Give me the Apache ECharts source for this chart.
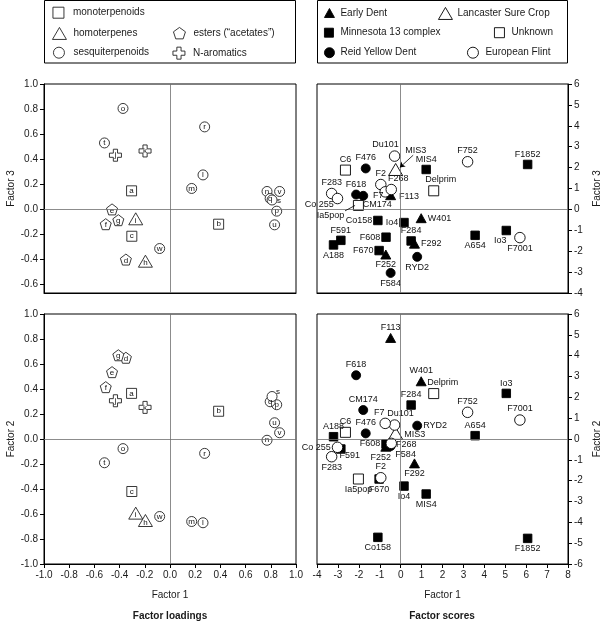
<!DOCTYPE html>
<html><head><meta charset="utf-8">
<script src="https://cdn.jsdelivr.net/npm/echarts@6/dist/echarts.min.js"></script>
<style>html,body{margin:0;padding:0;background:#fff}#c{width:608px;height:622px}</style>
</head><body><div id="c"></div>
<script>
// ---------- Data: factor loadings (variables a..w) ----------
const loadNames = ['a','b','c','d','e','f','g','h','i','j','k','l','m','n','o','p','q','r','s','t','u','v','w'];
const loadGroup = ['monoterpenoids','monoterpenoids','monoterpenoids',
  'esters (“acetates”)','esters (“acetates”)','esters (“acetates”)','esters (“acetates”)',
  'homoterpenes','homoterpenes','N-aromatics','N-aromatics',
  'sesquiterpenoids','sesquiterpenoids','sesquiterpenoids','sesquiterpenoids','sesquiterpenoids','sesquiterpenoids',
  'sesquiterpenoids','sesquiterpenoids','sesquiterpenoids','sesquiterpenoids','sesquiterpenoids','sesquiterpenoids'];
const loadF1 = [-0.305,0.386,-0.303,-0.35,-0.46,-0.51,-0.41,-0.195,-0.272,-0.433,-0.198,0.262,0.172,0.77,-0.373,0.847,0.795,0.275,0.81,-0.52,0.83,0.87,-0.082];
const loadF2 = [0.365,0.222,-0.42,0.65,0.535,0.415,0.67,-0.652,-0.593,0.306,0.253,-0.67,-0.66,-0.01,-0.077,0.274,0.298,-0.115,0.34,-0.19,0.13,0.05,-0.62];
const loadF3 = [0.148,-0.118,-0.214,-0.40,0.0,-0.118,-0.086,-0.413,-0.075,0.432,0.466,0.275,0.167,0.143,0.805,-0.014,0.087,0.658,0.075,0.53,-0.123,0.143,-0.312];

// ---------- Data: factor scores (accessions) ----------
const scoreNames = ['F113','W401','F292','F252','MIS4','Co158','Io4','F591','A188','F608','F284','F670','F1852','A654','Io3',
  'F476','F618','CM174','RYD2','F584','MIS3','C6','Ia5pop','Delprim','Du101','F2','F7','F268','F283','Co 255','F752','F7001'];
const scoreGroup = ['Early Dent','Early Dent','Early Dent','Early Dent',
  'Minnesota 13 complex','Minnesota 13 complex','Minnesota 13 complex','Minnesota 13 complex','Minnesota 13 complex','Minnesota 13 complex',
  'Minnesota 13 complex','Minnesota 13 complex','Minnesota 13 complex','Minnesota 13 complex','Minnesota 13 complex',
  'Reid Yellow Dent','Reid Yellow Dent','Reid Yellow Dent','Reid Yellow Dent','Reid Yellow Dent',
  'Lancaster Sure Crop','Unknown','Unknown','Unknown',
  'European Flint','European Flint','European Flint','European Flint','European Flint','European Flint','European Flint','European Flint'];
const scoreF1 = [-0.48,0.98,0.66,-0.71,1.22,-1.09,0.16,-2.86,-3.21,-0.70,0.50,-1.03,6.07,3.56,5.05,-1.67,-2.13,-1.79,0.79,-0.48,-0.24,-2.64,-2.02,1.58,-0.29,-0.95,-0.74,-0.45,-3.30,-3.02,3.2,5.70];
const scoreF2 = [4.85,2.77,-1.17,-0.37,-2.64,-4.72,-2.26,-0.48,0.11,-0.24,1.63,-1.92,-4.77,0.16,2.19,0.27,3.06,1.39,0.64,-0.34,0.27,0.32,-1.92,2.18,0.67,-1.86,0.75,-0.21,-0.85,-0.40,1.28,0.91];
const scoreF3 = [0.68,-0.42,-1.64,-2.16,1.91,-0.53,-0.63,-1.48,-1.70,-1.33,-1.51,-1.97,2.15,-1.24,-1.01,1.96,0.71,0.65,-2.27,-3.04,1.91,1.88,0.19,0.89,2.55,1.19,0.84,0.95,0.76,0.52,2.28,-1.35];

// ---------- Tick labels ----------
const loadTicksF3 = [-0.6,-0.4,-0.2,0.0,0.2,0.4,0.6,0.8,1.0];

// ---------- Styles ----------
const FONT = '"Liberation Sans", Arial, Helvetica, sans-serif';
const TXT = '#1a1a1a';
const PENT = 'path://M0,-10L9.51,-3.09L5.88,8.09L-5.88,8.09L-9.51,-3.09Z';
const CROSS = 'path://M-3.5,-10L3.5,-10L3.5,-3.5L10,-3.5L10,3.5L3.5,3.5L3.5,10L-3.5,10L-3.5,3.5L-10,3.5L-10,-3.5L-3.5,-3.5Z';
const loadStyle = {
  'monoterpenoids': {symbol:'rect', size:10, off:[0,0]},
  'homoterpenes': {symbol:'triangle', size:[14,12], off:[0,2]},
  'esters (“acetates”)': {symbol:PENT, size:11, off:[0,1]},
  'sesquiterpenoids': {symbol:'circle', size:10, off:[0,0]},
  'N-aromatics': {symbol:CROSS, size:12, off:[0,0]}
};
const scoreStyle = {
  'Early Dent': {symbol:'triangle', size:[10,9], fill:'#000'},
  'Minnesota 13 complex': {symbol:'rect', size:8.5, fill:'#000'},
  'Reid Yellow Dent': {symbol:'circle', size:9, fill:'#000'},
  'Lancaster Sure Crop': {symbol:'triangle', size:[14,12], fill:'#fff'},
  'Unknown': {symbol:'rect', size:10, fill:'#fff'},
  'European Flint': {symbol:'circle', size:10.5, fill:'#fff'}
};
// special letter label placements [panel] -> [dx,dy]
const letterMoves = {top: {s:[7,1]}, bot: {s:[6,-5]}};
// label placements for scores: [position, dx, dy]
const placeTop = {
  F113:['right',2,1], W401:['right',0,0], F292:['right',0,0], F252:['bottom',0,0],
  MIS4:['top',0,0], Co158:['left',0,0], Io4:['left',0,0], F591:['top',0,0], A188:['bottom',0,0],
  F608:['left',0,0], F284:['top',0,0], F670:['left',0,0], F1852:['top',0,0], A654:['bottom',0,0], Io3:['bottom',-6,0],
  F476:['top',0,0], F618:['top',0,0], CM174:['inside',14,9], RYD2:['bottom',0,0], F584:['bottom',0,0],
  MIS3:['inside',20,-19], C6:['top',0,0], Ia5pop:['inside',-28,10], Delprim:['top',7,0],
  Du101:['top',-9,0], F2:['top',0,0], F7:['left',5,4], F268:['top',7,0], F283:['top',0,0], 'Co 255':['left',3,6],
  F752:['top',0,0], F7001:['bottom',0,0]
};
const placeBot = {
  F113:['top',0,0], W401:['top',0,0], F292:['bottom',0,0], F252:['bottom',-5,0],
  MIS4:['bottom',0,0], Co158:['bottom',0,0], Io4:['bottom',0,0], F591:['bottom',9,-4], A188:['top',0,0],
  F608:['left',0,0], F284:['top',0,0], F670:['bottom',0,0], F1852:['bottom',0,0], A654:['top',0,0], Io3:['top',0,0],
  F476:['top',0,0], F618:['top',0,0], CM174:['top',0,0], RYD2:['right',0,0], F584:['inside',15,8],
  MIS3:['right',0,1], C6:['top',0,0], Ia5pop:['bottom',0,0], Delprim:['top',9,0],
  Du101:['top',6,0], F2:['top',0,0], F7:['top',-6,0], F268:['right',-2,1], F283:['bottom',0,0], 'Co 255':['left',0,0],
  F752:['top',0,0], F7001:['top',0,0]
};
// leader lines in the factor-3 score panel: offsets (data units) from the point
const leadersTop = {
  MIS3: {from:[0.84,0.685], to:[0.2,0.1], arrow:true},
  Ia5pop: {from:[-0.64,-0.26], to:[-0.16,0], arrow:false}
};

const zeroLines = {
  silent:true, symbol:'none', label:{show:false}, animation:false,
  lineStyle:{color:'#6e6e6e', width:0.8, type:'solid'},
  data:[{xAxis:0},{yAxis:0}]
};

const series = [];
// loadings series
[['top',0,loadF3],['bot',2,loadF2]].forEach(([panel, gi, yArr]) => {
  Object.keys(loadStyle).forEach((g, k) => {
    const st = loadStyle[g];
    const data = [];
    loadNames.forEach((n, i) => {
      if (loadGroup[i] !== g) return;
      const mv = letterMoves[panel][n];
      data.push({value:[loadF1[i], yArr[i]], name:n,
        label: mv ? {offset:mv} : {offset:st.off}});
    });
    series.push({
      type:'scatter', name:g, xAxisIndex:gi, yAxisIndex:gi, z:3,
      symbol:st.symbol, symbolSize:st.size, data,
      itemStyle:{color:'#fff', borderColor:'#222', borderWidth:0.9, opacity:1},
      label:{show:true, position:'inside', formatter:'{b}', fontSize:8, color:'#111', fontFamily:FONT},
      emphasis:{disabled:true},
      markLine: k === 0 ? zeroLines : undefined
    });
  });
});
// scores series
[['top',1,scoreF3,placeTop,leadersTop],['bot',3,scoreF2,placeBot,{}]].forEach(([panel, gi, yArr, place, leaders]) => {
  Object.keys(scoreStyle).forEach((g, k) => {
    const st = scoreStyle[g];
    const data = [];
    const lead = [];
    scoreNames.forEach((n, i) => {
      if (scoreGroup[i] !== g) return;
      const p = place[n] || ['top',0,0];
      data.push({value:[scoreF1[i], yArr[i]], name:n, label:{position:p[0], offset:[p[1], p[2]]}});
      const L = leaders[n];
      if (L) {
        lead.push([
          {coord:[scoreF1[i] + L.from[0], yArr[i] + L.from[1]], symbol:'none'},
          {coord:[scoreF1[i] + L.to[0], yArr[i] + L.to[1]], symbol:L.arrow ? 'arrow' : 'none', symbolSize:L.arrow ? 5 : 0}
        ]);
      }
    });
    let markLine;
    if (k === 0) markLine = zeroLines;
    else if (lead.length) markLine = {silent:true, label:{show:false}, animation:false,
      lineStyle:{color:'#000', width:0.8, type:'solid'}, data:lead};
    series.push({
      type:'scatter', name:g, xAxisIndex:gi, yAxisIndex:gi, z:3,
      symbol:st.symbol, symbolSize:st.size, data,
      itemStyle:{color:st.fill, borderColor:'#000', borderWidth:0.9, opacity:1},
      label:{show:true, formatter:'{b}', fontSize:9, color:'#111', distance:1, fontFamily:FONT},
      emphasis:{disabled:true},
      markLine
    });
  });
});

const axisText = {fontSize:10, color:TXT, fontFamily:FONT};
const fmt1 = v => (Math.abs(v) < 1e-9 ? 0 : v).toFixed(1);
const nameStyle = {fontSize:10, color:TXT, fontFamily:FONT};
const hiddenX = (gi, min, max) => ({type:'value', gridIndex:gi, min, max, axisLine:{show:true, onZero:false, lineStyle:{color:'#000'}},
  axisTick:{show:false}, axisLabel:{show:false}, splitLine:{show:false}});

const legends = [
  ['monoterpenoids','rect',11,11,52.5,6.7,4],
  ['homoterpenes','triangle',14,12,52,27,2],
  ['esters (“acetates”)',PENT,12,12,173,27,3],
  ['sesquiterpenoids','circle',11,11,53,46.7,4],
  ['N-aromatics',CROSS,12,12,172.5,46.7,3],
  ['Early Dent','triangle',10,9,324,7,1],
  ['Lancaster Sure Crop','triangle',14,12,438,7,0],
  ['Minnesota 13 complex','rect',9,9,324,26.7,2],
  ['Unknown','rect',10,10,494,26.7,2],
  ['Reid Yellow Dent','circle',10,10,324,46.7,1],
  ['European Flint','circle',11,11,467,46.7,2]
].map(([name, icon, w, h, left, top, pad]) => ({
  data:[{name, icon}], left, top, itemWidth:w, itemHeight:h, padding:0, selectedMode:false,
  itemStyle:{borderWidth:0.9},
  textStyle:{fontSize:10, color:TXT, fontFamily:FONT, lineHeight:12, padding:[0,0,0,pad]}
}));

const option = {
  animation:false,
  backgroundColor:'#fff',
  textStyle:{fontFamily:FONT},
  legend: legends,
  grid:[
    {left:44, top:84, width:252, height:209, show:true, borderColor:'#000', borderWidth:1},
    {left:317, top:84, width:251, height:209, show:true, borderColor:'#000', borderWidth:1},
    {left:44, top:314, width:252, height:250, show:true, borderColor:'#000', borderWidth:1},
    {left:317, top:314, width:251, height:250, show:true, borderColor:'#000', borderWidth:1}
  ],
  xAxis:[
    hiddenX(0,-1,1),
    hiddenX(1,-4,8),
    {type:'value', gridIndex:2, min:-1, max:1, interval:0.2,
      axisLine:{show:true, onZero:false, lineStyle:{color:'#000'}}, axisTick:{show:true, length:4, lineStyle:{color:'#000'}},
      axisLabel:{...axisText, margin:6, formatter:fmt1}, splitLine:{show:false},
      name:'Factor 1', nameLocation:'middle', nameGap:26, nameTextStyle:nameStyle},
    {type:'value', gridIndex:3, min:-4, max:8, interval:1,
      axisLine:{show:true, onZero:false, lineStyle:{color:'#000'}}, axisTick:{show:true, length:4, lineStyle:{color:'#000'}},
      axisLabel:{...axisText, margin:6}, splitLine:{show:false},
      name:'Factor 1', nameLocation:'middle', nameGap:26, nameTextStyle:nameStyle}
  ],
  yAxis:[
    {type:'value', gridIndex:0, min:-4/6, max:1, position:'left',
      axisLine:{show:true, onZero:false, lineStyle:{color:'#000'}},
      axisTick:{show:true, length:4, customValues:loadTicksF3, lineStyle:{color:'#000'}},
      axisLabel:{...axisText, margin:6, customValues:loadTicksF3, formatter:fmt1}, splitLine:{show:false},
      name:'Factor 3', nameLocation:'middle', nameGap:28, nameRotate:90, nameTextStyle:nameStyle},
    {type:'value', gridIndex:1, min:-4, max:6, interval:1, position:'right',
      axisLine:{show:true, onZero:false, lineStyle:{color:'#000'}},
      axisTick:{show:true, length:4, lineStyle:{color:'#000'}},
      axisLabel:{...axisText, margin:6}, splitLine:{show:false},
      name:'Factor 3', nameLocation:'middle', nameGap:24, nameRotate:90, nameTextStyle:nameStyle},
    {type:'value', gridIndex:2, min:-1, max:1, interval:0.2, position:'left',
      axisLine:{show:true, onZero:false, lineStyle:{color:'#000'}},
      axisTick:{show:true, length:4, lineStyle:{color:'#000'}},
      axisLabel:{...axisText, margin:6, formatter:fmt1}, splitLine:{show:false},
      name:'Factor 2', nameLocation:'middle', nameGap:28, nameRotate:90, nameTextStyle:nameStyle},
    {type:'value', gridIndex:3, min:-6, max:6, interval:1, position:'right',
      axisLine:{show:true, onZero:false, lineStyle:{color:'#000'}},
      axisTick:{show:true, length:4, lineStyle:{color:'#000'}},
      axisLabel:{...axisText, margin:6}, splitLine:{show:false},
      name:'Factor 2', nameLocation:'middle', nameGap:24, nameRotate:90, nameTextStyle:nameStyle}
  ],
  graphic:[
    {type:'rect', shape:{x:44.5, y:0.5, width:251, height:62.5}, style:{fill:'none', stroke:'#000', lineWidth:1}, silent:true, z:0},
    {type:'rect', shape:{x:317.5, y:0.5, width:250, height:62.5}, style:{fill:'none', stroke:'#000', lineWidth:1}, silent:true, z:0},
    {type:'text', x:170, y:616, style:{text:'Factor loadings', align:'center', verticalAlign:'middle', font:'bold 10px ' + FONT, fill:TXT}, silent:true},
    {type:'text', x:442, y:616, style:{text:'Factor scores', align:'center', verticalAlign:'middle', font:'bold 10px ' + FONT, fill:TXT}, silent:true}
  ],
  series
};
const chart = echarts.init(document.getElementById('c'), null, {renderer:'canvas'});
chart.setOption(option);
</script>
</body></html>
